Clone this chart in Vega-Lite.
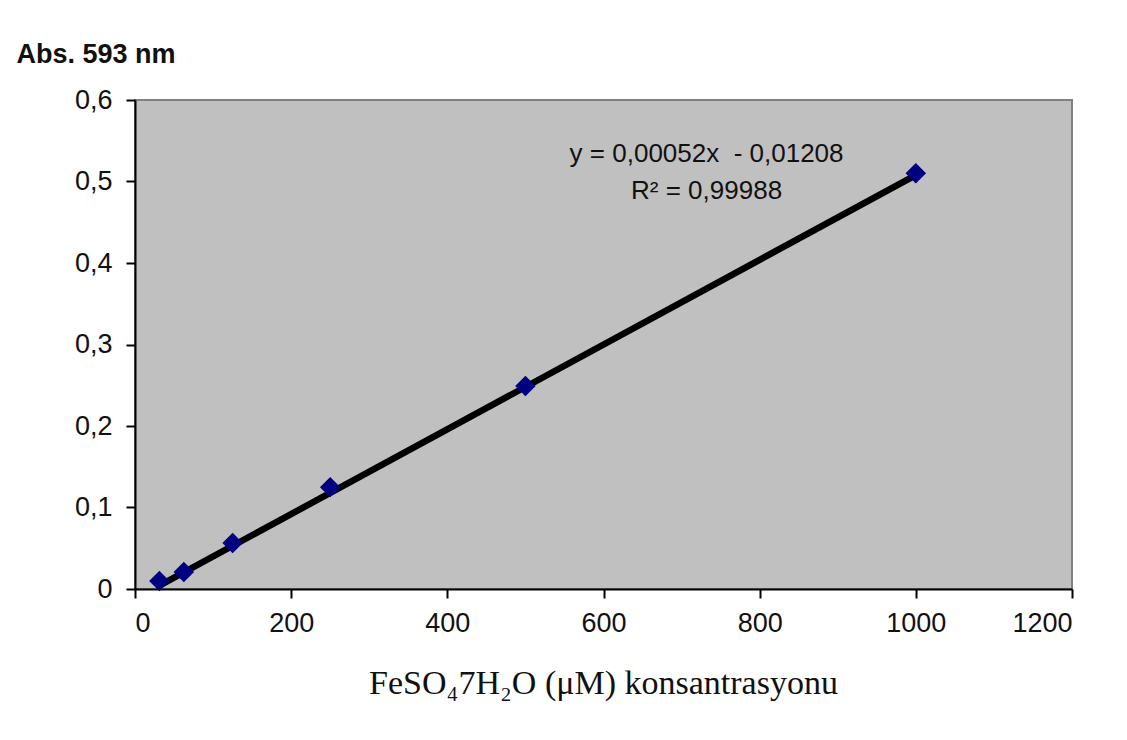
{
  "$schema": "https://vega.github.io/schema/vega-lite/v6.json",
  "autosize": {"type": "none"},
  "width": 937,
  "height": 489,
  "padding": {"left": 135, "top": 100, "right": 55, "bottom": 151},
  "background": "white",
  "view": {"fill": "#c0c0c0", "stroke": "#808080", "strokeWidth": 2},
  "datasets": {
    "points": [
      {"conc": 31.25, "abs": 0.0098},
      {"conc": 62.5, "abs": 0.0209},
      {"conc": 125, "abs": 0.0564},
      {"conc": 250, "abs": 0.125},
      {"conc": 500, "abs": 0.249},
      {"conc": 1000, "abs": 0.510}
    ],
    "trend": [
      {"conc": 31.25, "abs": 0.0042},
      {"conc": 1000, "abs": 0.5079}
    ],
    "labels": [
      {"conc": 732, "abs": 0.5337, "text": "y = 0,00052x\u00a0 - 0,01208"},
      {"conc": 732, "abs": 0.4883, "text": "R² = 0,99988"}
    ]
  },
  "layer": [
    {
      "data": {"name": "trend"},
      "mark": {"type": "line", "color": "black", "strokeWidth": 6.5, "strokeCap": "butt"},
      "encoding": {
        "x": {
          "field": "conc", "type": "quantitative",
          "scale": {"domain": [0, 1200], "nice": false},
          "axis": {
            "values": [0, 200, 400, 600, 800, 1000, 1200],
            "format": "d",
            "grid": false,
            "domainColor": "black", "domainWidth": 2,
            "tickColor": "black", "tickWidth": 2, "tickSize": 9,
            "labelFont": "Liberation Sans",
            "labelFontSize": 27, "labelColor": "#111", "labelPadding": 12,
            "title": "FeSO₄7H₂O (μM) konsantrasyonu",
            "titleFont": "Liberation Serif", "titleFontSize": 34, "titleFontWeight": "normal",
            "titleColor": "#111",
            "titleBaseline": "alphabetic", "titleY": 104, "titleX": 468
          }
        },
        "y": {
          "field": "abs", "type": "quantitative",
          "scale": {"domain": [0, 0.6], "nice": false},
          "axis": {
            "values": [0, 0.1, 0.2, 0.3, 0.4, 0.5, 0.6],
            "labelExpr": "datum.value == 0 ? '0' : replace(format(datum.value, '.1f'), '.', ',')",
            "grid": false,
            "domainColor": "black", "domainWidth": 2,
            "tickColor": "black", "tickWidth": 2, "tickSize": 9,
            "labelFont": "Liberation Sans",
            "labelFontSize": 27, "labelColor": "#111", "labelPadding": 14,
            "title": "Abs. 593 nm",
            "titleFont": "Liberation Sans",
            "titleFontSize": 27, "titleFontWeight": "bold", "titleColor": "#111",
            "titleAngle": 0, "titleAlign": "left", "titleBaseline": "alphabetic",
            "titleX": -119, "titleY": -38
          }
        }
      }
    },
    {
      "data": {"name": "points"},
      "mark": {"type": "point", "shape": "diamond", "filled": true, "color": "#000080", "size": 420, "opacity": 1},
      "encoding": {
        "x": {"field": "conc", "type": "quantitative"},
        "y": {"field": "abs", "type": "quantitative"}
      }
    },
    {
      "data": {"name": "labels"},
      "mark": {
        "type": "text", "align": "center", "baseline": "middle",
        "font": "Liberation Sans",
        "fontSize": 26, "color": "#111"
      },
      "encoding": {
        "x": {"field": "conc", "type": "quantitative"},
        "y": {"field": "abs", "type": "quantitative"},
        "text": {"field": "text"}
      }
    }
  ]
}
